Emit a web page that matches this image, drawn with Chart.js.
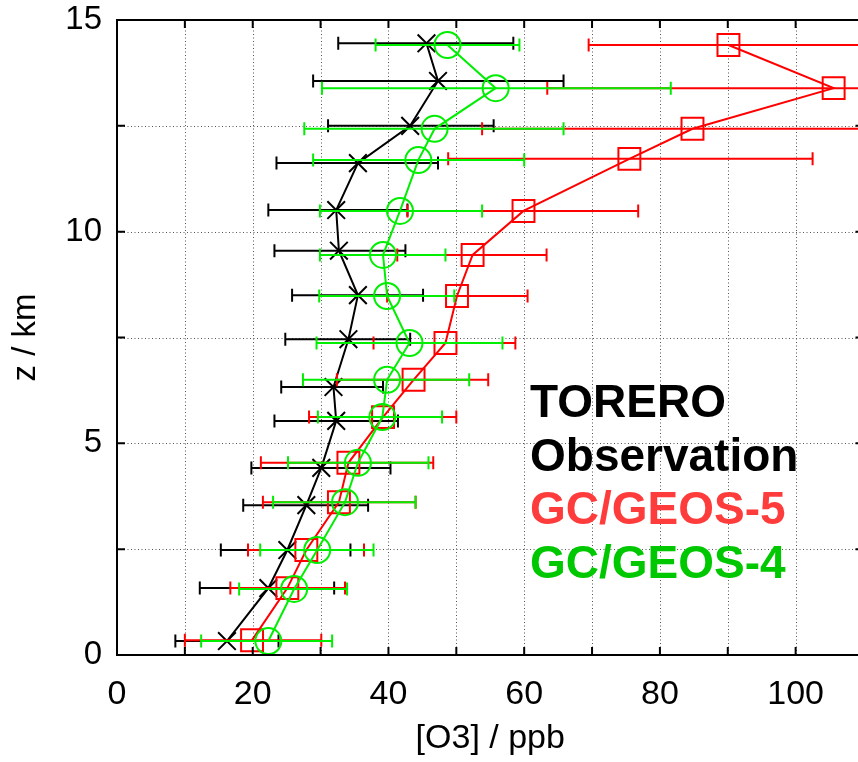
<!DOCTYPE html>
<html>
<head>
<meta charset="utf-8">
<script src="https://cdn.jsdelivr.net/npm/chart.js@4/dist/chart.umd.min.js"></script>
<style>
  html, body { margin: 0; padding: 0; overflow: hidden; background: #ffffff; }
  #wrap { width: 858px; height: 762px; overflow: hidden; }
  canvas { display: block; }
</style>
</head>
<body>
<div id="wrap"><canvas id="profile" width="881" height="762"></canvas></div>
<script>
// Ozone vertical profiles: altitude (km), mean (ppb) and the low/high ends of the spread bars (ppb)

// TORERO observations
const obsAlt = [0.33, 1.58, 2.48, 3.54, 4.42, 5.53, 6.33, 7.46, 8.50, 9.55, 10.51, 11.62, 12.50, 13.56, 14.45];
const obsO3  = [16.2, 22.3, 25.1, 27.9, 30.1, 32.3, 31.9, 34.1, 35.5, 32.7, 32.3, 35.5, 43.2, 47.3, 45.6];
const obsLo  = [8.6, 12.2, 15.3, 18.6, 19.8, 23.2, 24.2, 24.8, 25.8, 23.2, 22.3, 23.5, 31.1, 28.9, 32.6];
const obsHi  = [23.8, 32.0, 34.4, 37.0, 40.3, 41.4, 39.2, 43.2, 45.1, 42.5, 42.8, 47.3, 55.5, 65.8, 58.4];

// GEOS-Chem driven by GEOS-5
const gc5Alt = [0.35, 1.58, 2.48, 3.61, 4.54, 5.62, 6.50, 7.37, 8.48, 9.45, 10.49, 11.72, 12.43, 13.39, 14.41];
const gc5O3  = [19.9, 25.1, 27.9, 32.7, 34.1, 39.2, 43.7, 48.4, 50.1, 52.4, 59.9, 75.5, 84.8, 105.6, 90.1];
const gc5Lo  = [10.0, 16.7, 19.3, 21.5, 21.2, 28.3, 32.4, 37.8, 39.8, 41.3, 42.8, 48.8, 53.8, 63.4, 69.5];
const gc5Hi  = [30.1, 33.6, 36.4, 44.0, 46.6, 50.0, 54.7, 58.7, 60.5, 63.3, 76.8, 102.5, 115.8, 147.8, 110.7];

// GEOS-Chem driven by GEOS-4
const gc4Alt = [0.33, 1.56, 2.48, 3.61, 4.54, 5.62, 6.50, 7.37, 8.48, 9.45, 10.49, 11.69, 12.43, 13.39, 14.41];
const gc4O3  = [22.3, 26.1, 29.5, 33.6, 35.5, 39.1, 39.8, 43.1, 39.8, 39.2, 41.7, 44.4, 46.8, 55.8, 48.7];
const gc4Lo  = [12.4, 18.0, 21.1, 23.0, 25.2, 29.6, 27.4, 29.4, 29.8, 29.9, 29.9, 28.9, 27.6, 30.2, 38.1];
const gc4Hi  = [31.7, 33.9, 37.8, 44.0, 45.9, 47.9, 51.9, 56.8, 49.7, 48.4, 53.8, 60.0, 65.8, 81.6, 59.3];

// Axis extents and labelled tick spacing
const xRange = [0, 110];
const yRange = [0, 15];
const xLabelEvery = 20;
const yLabelEvery = 5;

// Text block drawn inside the plot
const keyLines = [
  { text: 'TORERO',      color: '#000000' },
  { text: 'Observation', color: '#000000' },
  { text: 'GC/GEOS-5',   color: '#ff3c3c' },
  { text: 'GC/GEOS-4',   color: '#00c800' }
];

const FONT = "'Liberation Sans', Arial, Helvetica, sans-serif";
const CAP = 6.5;

function points(xs, ys) { return xs.map((v, i) => ({ x: v, y: ys[i] })); }

// Horizontal spread bars with end caps, drawn just before each dataset
const errorBars = {
  id: 'errorBars',
  beforeDatasetDraw(chart, args) {
    const ds = chart.data.datasets[args.index];
    if (!ds.errLo) return;
    const { ctx, chartArea: a, scales: { x, y } } = chart;
    ctx.save();
    ctx.beginPath();
    ctx.rect(a.left, a.top, a.right - a.left, a.bottom - a.top);
    ctx.clip();
    ctx.strokeStyle = ds.borderColor;
    ctx.lineWidth = 2;
    ds.data.forEach((p, i) => {
      const py = y.getPixelForValue(p.y);
      const x0 = x.getPixelForValue(ds.errLo[i]);
      const x1 = x.getPixelForValue(ds.errHi[i]);
      ctx.beginPath();
      ctx.moveTo(x0, py); ctx.lineTo(x1, py);
      ctx.moveTo(x0, py - CAP); ctx.lineTo(x0, py + CAP);
      ctx.moveTo(x1, py - CAP); ctx.lineTo(x1, py + CAP);
      ctx.stroke();
    });
    ctx.restore();
  }
};

// Dotted grid under the data, frame with inward ticks over it
const frame = {
  id: 'frame',
  beforeDatasetsDraw(chart) {
    const { ctx, chartArea: a, scales: { x, y } } = chart;
    ctx.save();
    ctx.strokeStyle = '#555555';
    ctx.lineWidth = 1;
    ctx.setLineDash([1, 2.5]);
    x.ticks.forEach(t => {
      if (t.value <= x.min || t.value >= x.max) return;
      const px = Math.round(x.getPixelForValue(t.value)) + 0.5;
      ctx.beginPath(); ctx.moveTo(px, a.top); ctx.lineTo(px, a.bottom); ctx.stroke();
    });
    y.ticks.forEach(t => {
      if (t.value <= y.min || t.value >= y.max) return;
      const py = Math.round(y.getPixelForValue(t.value)) + 0.5;
      ctx.beginPath(); ctx.moveTo(a.left, py); ctx.lineTo(a.right, py); ctx.stroke();
    });
    ctx.restore();
  },
  afterDatasetsDraw(chart) {
    const { ctx, chartArea: a, scales: { x, y } } = chart;
    ctx.save();
    ctx.strokeStyle = '#000000';
    ctx.lineWidth = 2;
    ctx.setLineDash([]);
    const tl = 8;
    ctx.beginPath();
    x.ticks.forEach(t => {
      const px = x.getPixelForValue(t.value);
      ctx.moveTo(px, a.bottom); ctx.lineTo(px, a.bottom - tl);
      ctx.moveTo(px, a.top); ctx.lineTo(px, a.top + tl);
    });
    y.ticks.forEach(t => {
      const py = y.getPixelForValue(t.value);
      ctx.moveTo(a.left, py); ctx.lineTo(a.left + tl, py);
      ctx.moveTo(a.right, py); ctx.lineTo(a.right - tl, py);
    });
    ctx.stroke();
    ctx.strokeRect(a.left, a.top, a.right - a.left, a.bottom - a.top);
    ctx.restore();
  },
  afterDraw(chart) {
    const { ctx, chartArea: a } = chart;
    ctx.save();
    ctx.font = 'bold 46px ' + FONT;
    ctx.textAlign = 'left';
    ctx.textBaseline = 'alphabetic';
    keyLines.forEach((k, i) => {
      ctx.fillStyle = k.color;
      ctx.fillText(k.text, a.left + 413, a.top + 397 + i * 53.7);
    });
    ctx.restore();
  }
};

Chart.defaults.font.family = FONT;
Chart.defaults.color = '#000000';

new Chart(document.getElementById('profile'), {
  type: 'scatter',
  data: {
    datasets: [
      {
        label: 'GC/GEOS-4',
        data: points(gc4O3, gc4Alt),
        errLo: gc4Lo, errHi: gc4Hi,
        showLine: true,
        borderColor: '#00ee00',
        borderWidth: 2,
        pointStyle: 'circle',
        pointRadius: 13,
        pointBorderWidth: 2,
        pointBackgroundColor: 'rgba(0,0,0,0)',
        pointBorderColor: '#00ee00'
      },
      {
        label: 'GC/GEOS-5',
        data: points(gc5O3, gc5Alt),
        errLo: gc5Lo, errHi: gc5Hi,
        showLine: true,
        borderColor: '#ff0000',
        borderWidth: 2,
        pointStyle: 'rect',
        pointRadius: 15.5,
        pointBorderWidth: 2,
        pointBackgroundColor: 'rgba(0,0,0,0)',
        pointBorderColor: '#ff0000'
      },
      {
        label: 'TORERO Observation',
        data: points(obsO3, obsAlt),
        errLo: obsLo, errHi: obsHi,
        showLine: true,
        borderColor: '#000000',
        borderWidth: 2,
        pointStyle: 'crossRot',
        pointRadius: 12.5,
        pointBorderWidth: 2,
        pointBorderColor: '#000000'
      }
    ]
  },
  options: {
    responsive: false,
    animation: false,
    events: [],
    layout: { padding: { top: 20, right: 0, left: 0, bottom: 0 } },
    plugins: { legend: { display: false }, tooltip: { enabled: false } },
    scales: {
      x: {
        type: 'linear',
        min: xRange[0], max: xRange[1],
        afterFit(scale) { scale.height = 107; },
        grid: { display: false },
        border: { display: false },
        ticks: {
          stepSize: 10,
          autoSkip: false, maxRotation: 0, minRotation: 0,
          padding: 11,
          font: { size: 34 },
          color: '#000000',
          callback: v => (v % xLabelEvery === 0 ? String(v) : '')
        },
        title: {
          display: true, text: '[O3] / ppb',
          font: { size: 34 }, color: '#000000',
          padding: { top: 0, bottom: 3 }
        }
      },
      y: {
        type: 'linear',
        min: yRange[0], max: yRange[1],
        afterFit(scale) { scale.width = 117; },
        grid: { display: false },
        border: { display: false },
        ticks: {
          stepSize: 2.5,
          autoSkip: false,
          padding: 7,
          font: { size: 33, lineHeight: 0.5 },
          color: '#000000',
          callback: v => (v % yLabelEvery === 0 ? String(v) : '')
        },
        title: {
          display: true, text: 'z / km',
          font: { size: 33 }, color: '#000000',
          padding: { top: 6, bottom: 0 }
        }
      }
    }
  },
  plugins: [errorBars, frame]
});
</script>
</body>
</html>
